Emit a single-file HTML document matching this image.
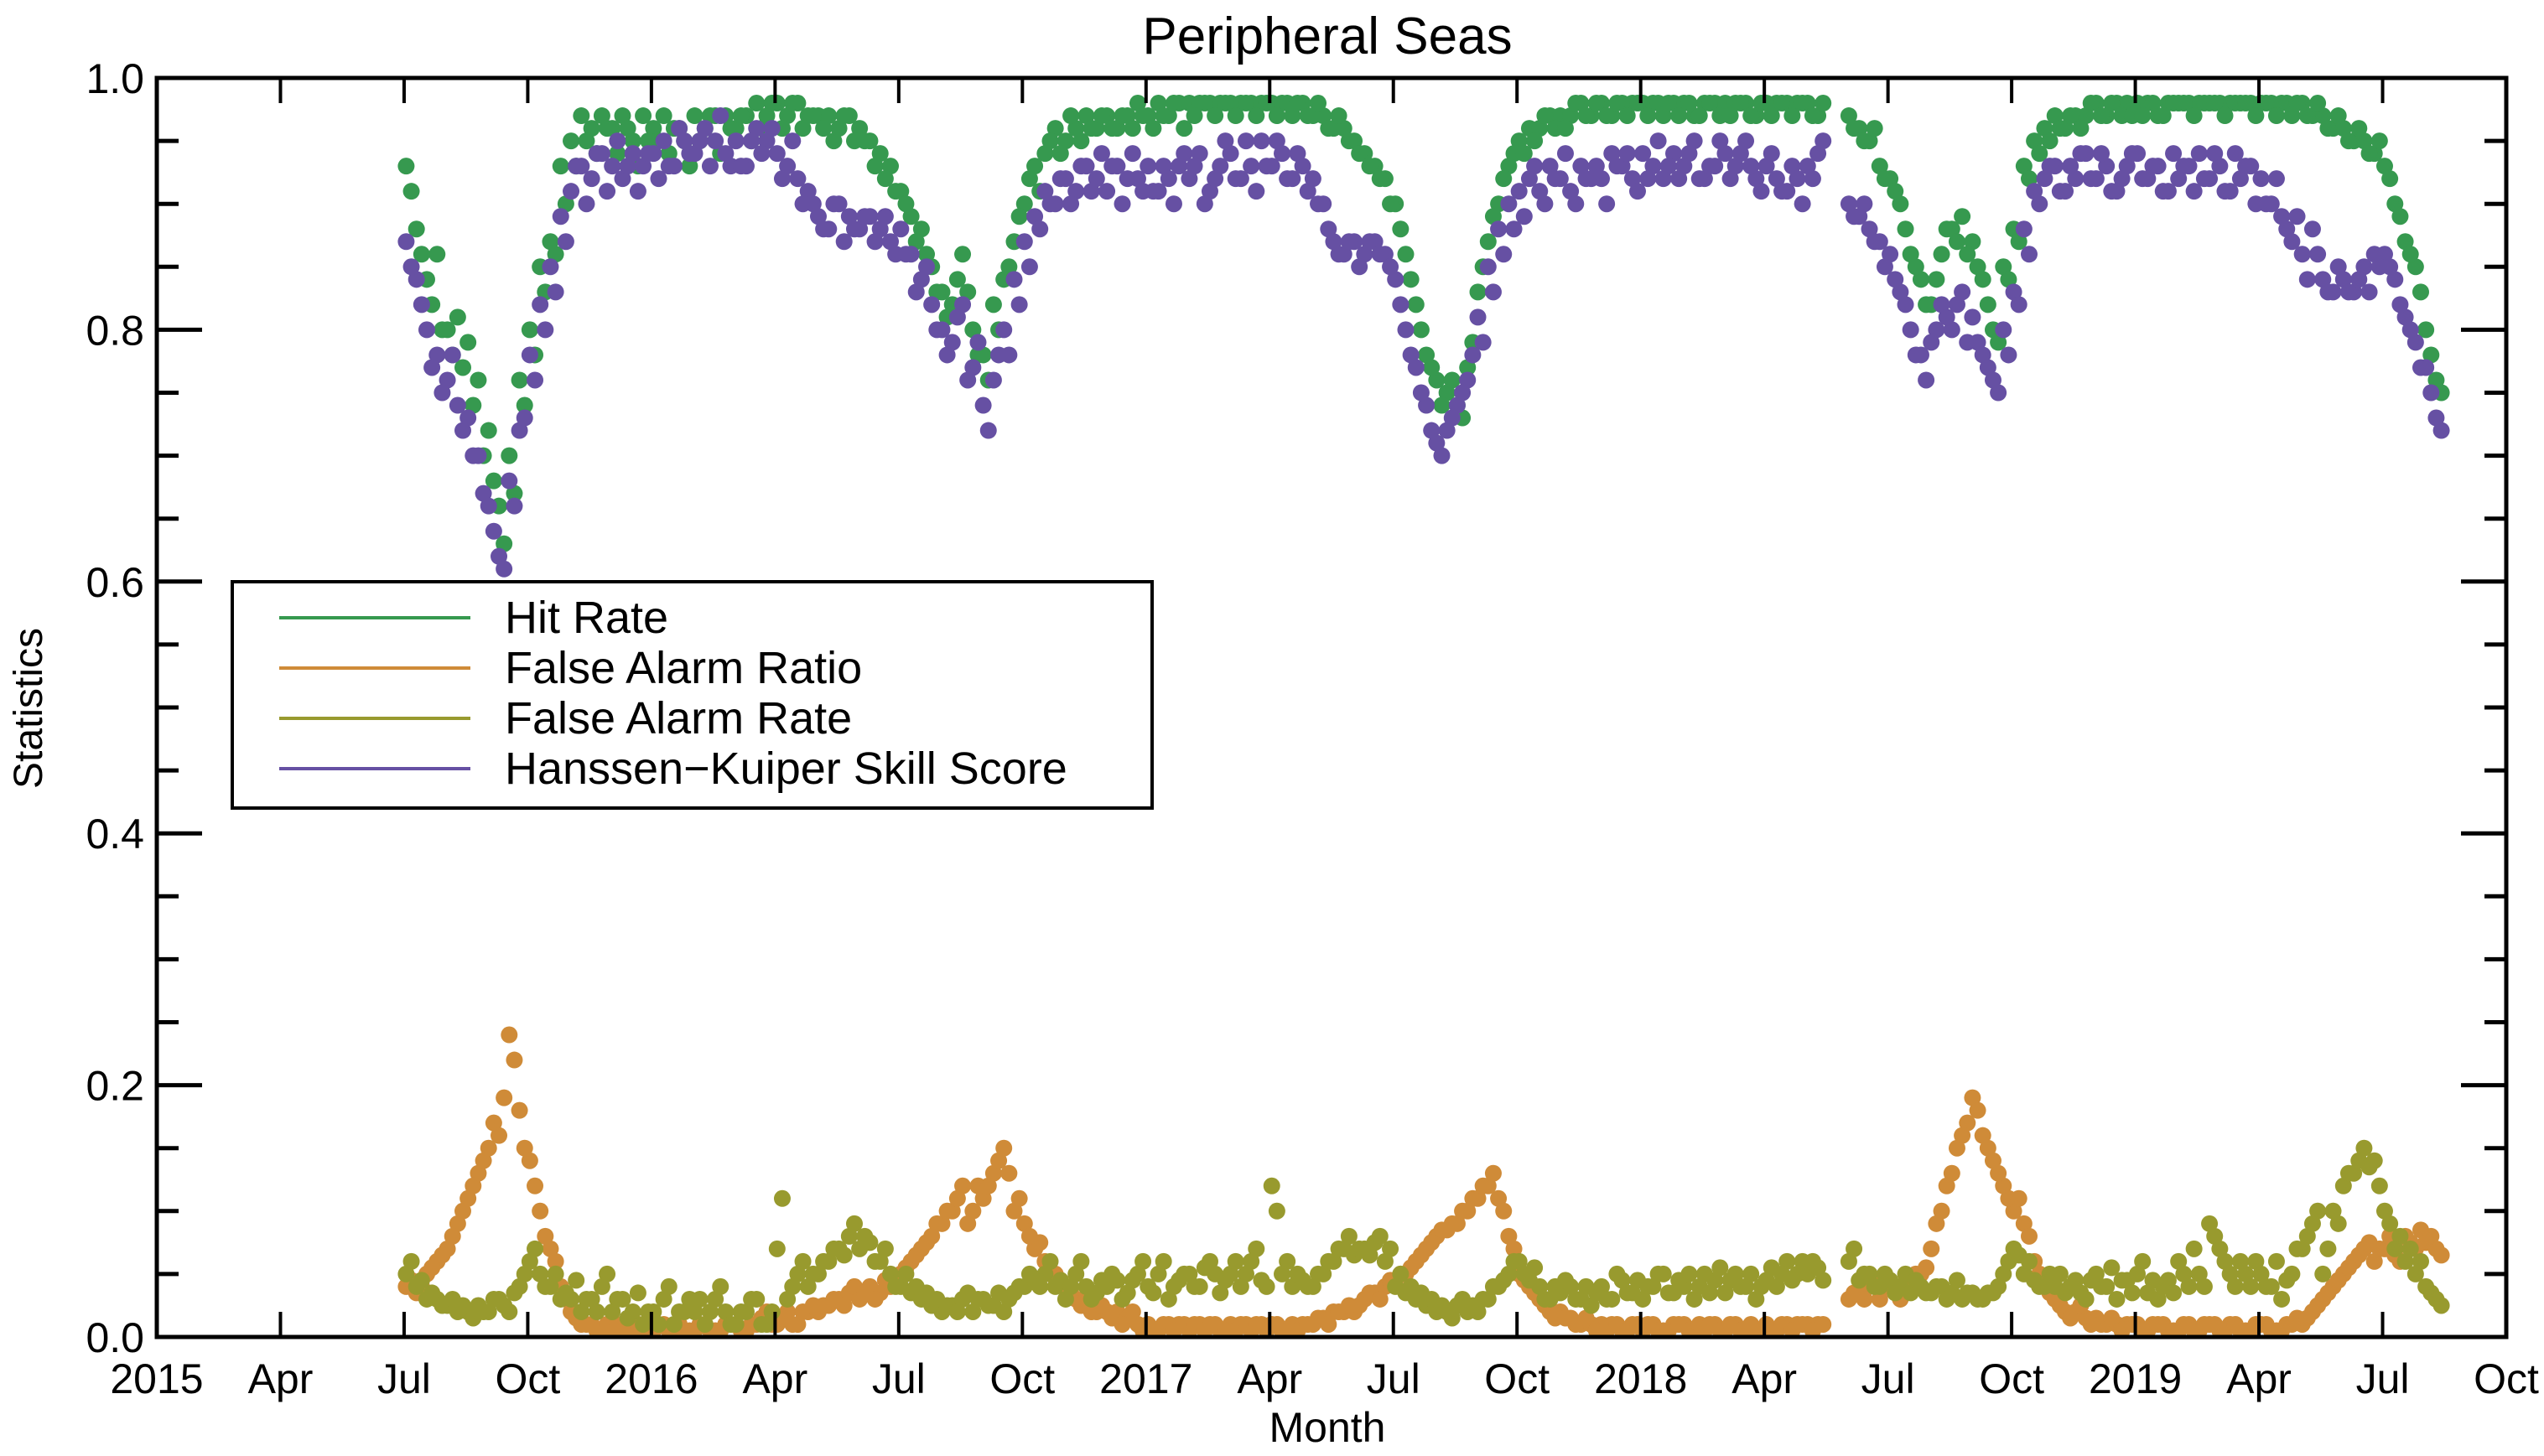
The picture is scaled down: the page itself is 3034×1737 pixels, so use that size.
<!DOCTYPE html>
<html><head><meta charset="utf-8"><style>
html,body{margin:0;padding:0;background:#fff;}
svg{display:block;font-family:"Liberation Sans",Arial,sans-serif;}
</style></head><body>
<svg id="chart" width="3034" height="1737" viewBox="0 0 3034 1737">
<rect width="3034" height="1737" fill="#fff"/>
<text x="1583" y="64" font-size="62" text-anchor="middle">Peripheral Seas</text>
<text transform="translate(50,845) rotate(-90)" font-size="48" text-anchor="middle">Statistics</text>
<text x="1583" y="1720" font-size="50" text-anchor="middle">Month</text>
<g id="marks"></g>
<g id="axes"></g>
<g>
<rect x="277" y="694" width="1097" height="270" fill="#fff" stroke="#000" stroke-width="4"/>
<line x1="333" y1="737" x2="561" y2="737" stroke="#36994f" stroke-width="4"/>
<text x="602" y="755" font-size="54">Hit Rate</text>
<line x1="333" y1="797" x2="561" y2="797" stroke="#cf8b38" stroke-width="4"/>
<text x="602" y="815" font-size="54">False Alarm Ratio</text>
<line x1="333" y1="857" x2="561" y2="857" stroke="#989a2e" stroke-width="4"/>
<text x="602" y="875" font-size="54">False Alarm Rate</text>
<line x1="333" y1="917" x2="561" y2="917" stroke="#6650a3" stroke-width="4"/>
<text x="602" y="935" font-size="54">Hanssen−Kuiper Skill Score</text>
</g>
</svg>
<script>
// months since Jan 2015; first sample ~Jul 2015, 4 samples per month (plus a second, offset set of samples)
const startMonth = 6.05;
const stepMonth = 0.25;
const xTickLabels = ["2015","Apr","Jul","Oct","2016","Apr","Jul","Oct","2017","Apr","Jul","Oct","2018","Apr","Jul","Oct","2019","Apr","Jul","Oct"];
const yTickLabels = ["0.0","0.2","0.4","0.6","0.8","1.0"];
const yTickValues = [0,0.2,0.4,0.6,0.8,1.0];
const hitRate = [
.93,.88,.84,.86, .80,.81,.79,.76, .72,.66,.70,.76, .80,.85,.87,.93, .95,.97,.96,.97, .96,.97,.95,.97,
.96,.97,.96,.95, .97,.96,.97,.97, .96,.97,.98,.97, .98,.97,.98,.97, .97,.97,.96,.97, .96,.95,.94,.93,
.91,.89,.88,.85, .83,.82,.86,.80, .78,.82,.84,.87, .90,.93,.94,.96, .95,.96,.97,.96, .97,.96,.97,.98,
.97,.98,.97,.98, .98,.98,.98,.98, .98,.98,.98,.98, .98,.98,.97,.98, .97,.97,.96,.96, .95,.94,.93,.92,
.90,.86,.82,.78, .76,.75,.74,.77, .83,.87,.90,.93, .95,.96,.96,.97, .97,.97,.98,.97, .98,.97,.98,.98,
.98,.98,.97,.98, .98,.97,.98,.98, .98,.98,.98,.97, .98,.98,.98,.98, .98,.97,null,null, .97,.96,.95,.93,
.92,.90,.86,.84, .82,.86,.88,.89, .87,.84,.80,.85, .88,.93,.95,.96, .97,.96,.97,.97, .98,.97,.98,.98,
.98,.98,.97,.98, .98,.98,.98,.98, .98,.98,.98,.98, .98,.98,.98,.97, .98,.97,.97,.96, .96,.95,.95,.94,
.93,.90,.87,.85, .80,.76];
const hitRate2 = [
.91,.86,.82,.80, .78,.77,.74,.70, .68,.63,.67,.74, .78,.83,.86,.90, .93,.95,.94,.96, .94,.96,.93,.95,
.95,.94,.96,.93, .95,.97,.94,.96, .97,.95,.96,.98, .96,.98,.96,.97, .96,.95,.97,.95, .95,.93,.92,.91,
.90,.87,.86,.83, .81,.84,.83,.78, .76,.80,.85,.89, .92,.91,.95,.94, .97,.95,.96,.97, .96,.97,.96,.97,
.96,.97,.98,.96, .97,.98,.97,.98, .97,.98,.97,.98, .97,.98,.98,.97, .98,.96,.97,.95, .94,.93,.92,.90,
.88,.84,.80,.77, .74,.76,.73,.79, .85,.89,.92,.94, .94,.95,.97,.96, .96,.98,.97,.98, .97,.98,.97,.98,
.97,.98,.98,.97, .98,.97,.98,.97, .97,.98,.97,.98, .97,.98,.97,.98, .97,.98,null,null, .96,.95,.96,.92,
.91,.88,.85,.82, .84,.88,.87,.86, .85,.82,.79,.84, .87,.92,.94,.95, .96,.97,.96,.98, .97,.98,.97,.97,
.97,.98,.97,.98, .98,.97,.98,.98, .97,.98,.98,.97, .98,.97,.98,.98, .97,.98,.96,.97, .95,.96,.94,.95,
.92,.89,.86,.83, .78,.75];
const hkss = [
.87,.84,.80,.78, .76,.74,.73,.70, .66,.62,.68,.72, .78,.82,.85,.89, .91,.93,.92,.94, .93,.92,.94,.93,
.94,.95,.93,.95, .94,.96,.95,.94, .95,.93,.96,.95, .94,.93,.92,.91, .89,.88,.90,.89, .88,.89,.88,.87,
.88,.86,.84,.82, .80,.79,.82,.77, .74,.76,.80,.84, .87,.89,.91,.90, .92,.91,.93,.92, .91,.93,.92,.92,
.93,.91,.92,.93, .92,.94,.91,.93, .94,.92,.93,.95, .93,.94,.92,.93, .92,.90,.87,.86, .87,.86,.87,.86,
.84,.80,.77,.74, .71,.72,.74,.76, .81,.85,.88,.90, .91,.92,.91,.93, .92,.91,.93,.92, .92,.94,.93,.92,
.94,.93,.92,.94, .93,.95,.92,.93, .94,.93,.95,.92, .93,.92,.91,.92, .93,.94,null,null, .90,.89,.88,.87,
.86,.83,.80,.78, .79,.82,.80,.83, .81,.78,.76,.80, .83,.88,.91,.92, .93,.91,.92,.94, .92,.93,.91,.93,
.94,.92,.93,.91, .92,.93,.94,.92, .93,.91,.92,.93, .92,.90,.89,.87, .86,.88,.84,.83, .84,.83,.85,.86,
.86,.84,.81,.79, .77,.73];
const hkss2 = [
.85,.82,.77,.75, .78,.72,.70,.67, .64,.61,.66,.73, .76,.80,.83,.87, .93,.90,.94,.91, .95,.93,.91,.94,
.92,.93,.96,.94, .95,.93,.97,.93, .93,.95,.94,.96, .92,.95,.90,.90, .88,.90,.87,.88, .89,.87,.89,.86,
.86,.83,.85,.80, .78,.81,.76,.79, .72,.78,.78,.82, .85,.88,.90,.92, .90,.93,.91,.94, .93,.90,.94,.91,
.91,.93,.90,.94, .93,.90,.92,.95, .92,.95,.91,.93, .95,.92,.94,.91, .90,.88,.86,.87, .85,.87,.86,.85,
.82,.78,.75,.72, .70,.73,.75,.78, .79,.83,.86,.88, .89,.93,.90,.92, .94,.90,.92,.93, .90,.93,.94,.91,
.92,.95,.93,.92, .94,.92,.93,.95, .92,.94,.93,.91, .94,.91,.93,.90, .92,.95,null,null, .89,.90,.87,.85,
.84,.82,.78,.76, .80,.81,.82,.79, .79,.77,.75,.78, .82,.86,.90,.93, .91,.93,.94,.92, .94,.91,.92,.94,
.92,.93,.91,.94, .93,.91,.92,.94, .91,.94,.93,.90, .90,.92,.88,.89, .84,.86,.83,.85, .83,.84,.83,.85,
.85,.82,.80,.77, .75,.72];
const falseAlarmRatio = [
.04,.035,.05,.06, .07,.09,.11,.13, .15,.16,.24,.18, .14,.10,.07,.04, .02,.01,.01,.005, .005,.005,.005,.005,
.005,.01,.005,.005, .005,.01,.005,.01, .01,.005,.01,.02, .01,.02,.01,.02, .02,.025,.03,.035, .03,.04,.035,.04,
.05,.06,.07,.08, .09,.10,.12,.10, .11,.13,.15,.10, .09,.07,.06,.05, .04,.03,.03,.02, .02,.02,.015,.01,
.01,.005,.01,.01, .005,.01,.01,.005, .01,.01,.005,.01, .01,.005,.01,.01, .01,.015,.02,.02, .02,.03,.035,.04,
.045,.05,.06,.07, .08,.085,.09,.10, .11,.12,.11,.08, .05,.04,.03,.02, .02,.015,.01,.01, .01,.01,.005,.01,
.005,.01,.005,.01, .01,.005,.005,.01, .005,.01,.005,.005, .01,.005,.01,.01, .01,.01,null,null, .03,.035,.04,.03,
.04,.03,.045,.05, .07,.10,.13,.16, .19,.16,.14,.12, .10,.09,.06,.04, .03,.02,.02,.015, .015,.01,.01,.01,
.01,.005,.01,.005, .005,.01,.005,.01, .005,.01,.005,.005, .01,.005,.005,.01, .01,.02,.03,.04, .05,.06,.07,.06,
.07,.065,.08,.07, .075,.07];
const falseAlarmRatio2 = [
.045,.04,.055,.065, .08,.10,.12,.14, .17,.19,.22,.15, .12,.08,.06,.03, .015,.01,.005,.01, .01,.005,.01,.005,
.01,.005,.01,.005, .01,.005,.005,.01, .005,.01,.015,.01, .015,.01,.02,.025, .025,.03,.025,.04, .035,.03,.045,.045,
.055,.065,.075,.09, .10,.11,.09,.12, .12,.14,.13,.11, .08,.075,.05,.045, .035,.025,.02,.025, .015,.01,.02,.005,
.005,.01,.005,.01, .01,.005,.01,.005, .005,.01,.01,.005, .01,.005,.005,.01, .015,.01,.02,.025, .025,.035,.03,.045,
.05,.055,.065,.075, .085,.09,.10,.11, .12,.13,.10,.07, .045,.035,.025,.015, .015,.01,.015,.005, .005,.01,.005,.01,
.01,.005,.005,.01, .005,.01,.01,.005, .01,.005,.01,.005, .005,.01,.005,.01, .005,.01,null,null, .035,.03,.045,.04,
.035,.04,.05,.055, .09,.12,.15,.17, .18,.15,.13,.11, .11,.08,.05,.035, .025,.015,.025,.01, .01,.015,.005,.01,
.005,.01,.01,.005, .01,.005,.01,.01, .005,.01,.005,.01, .01,.005,.01,.015, .015,.025,.035,.045, .055,.065,.075,.07,
.08,.06,.075,.085, .08,.065];
const falseAlarmRate = [
.05,.04,.03,.03, .025,.02,.02,.025, .02,.03,.02,.04, .06,.05,.04,.03, .03,.02,.03,.04, .02,.03,.02,.01,
.02,.03,.01,.02, .02,.01,.03,.02, .01,.02,.03,.01, .07,.03,.05,.04, .05,.06,.07,.08, .07,.075,.06,.05,
.04,.035,.03,.025, .02,.025,.03,.02, .03,.025,.02,.035, .04,.045,.05,.04, .03,.05,.04,.035, .04,.045,.035,.05,
.04,.05,.03,.045, .05,.04,.06,.035, .05,.04,.06,.045, .12,.05,.04,.045, .04,.05,.06,.07, .065,.07,.075,.06,
.04,.035,.03,.025, .02,.02,.025,.02, .02,.03,.04,.05, .06,.045,.04,.03, .035,.04,.03,.025, .04,.03,.045,.035,
.03,.04,.05,.035, .04,.03,.05,.045, .035,.05,.04,.03, .045,.04,.06,.05, .05,.055,null,null, .06,.045,.05,.04,
.045,.04,.035,.04, .035,.04,.035,.03, .035,.03,.035,.05, .07,.05,.045,.04, .04,.035,.045,.03, .05,.04,.03,.045,
.05,.035,.03,.045, .06,.04,.05,.09, .07,.05,.06,.04, .05,.04,.03,.05, .07,.09,.05,.10, .12,.13,.15,.14,
.10,.07,.06,.05, .04,.03];
const falseAlarmRate2 = [
.06,.045,.035,.025, .03,.025,.015,.02, .03,.025,.035,.05, .07,.04,.05,.035, .045,.03,.02,.05, .03,.015,.035,.02,
.01,.04,.02,.03, .03,.02,.04,.01, .02,.03,.01,.02, .11,.04,.06,.05, .06,.07,.065,.09, .08,.06,.07,.04,
.05,.04,.035,.03, .025,.02,.035,.03, .025,.035,.03,.04, .05,.04,.06,.045, .04,.06,.03,.045, .05,.03,.045,.06,
.035,.06,.04,.05, .04,.055,.05,.045, .06,.05,.07,.04, .10,.06,.05,.04, .05,.06,.07,.08, .07,.065,.08,.07,
.05,.04,.035,.03, .025,.015,.03,.025, .03,.04,.045,.06, .05,.055,.03,.04, .045,.03,.04,.035, .03,.05,.035,.045,
.04,.05,.035,.045, .05,.04,.035,.055, .045,.04,.05,.04, .055,.05,.045,.06, .06,.045,null,null, .07,.05,.04,.05,
.035,.05,.045,.035, .04,.03,.045,.035, .03,.035,.04,.06, .065,.06,.04,.05, .05,.04,.035,.045, .04,.055,.045,.035,
.06,.045,.04,.035, .05,.07,.04,.08, .06,.04,.05,.06, .04,.06,.045,.07, .08,.10,.07,.09, .13,.14,.135,.12,
.09,.08,.07,.06, .035,.025];

const X0 = 187, X1 = 2989, Y0 = 1595, Y1 = 93;
const monthsSpan = 57;
function xScale(m){ return X0 + (m / monthsSpan) * (X1 - X0); }
function yScale(v){ return Y0 - v * (Y0 - Y1); }
const NS = "http://www.w3.org/2000/svg";
const marks = document.getElementById("marks");
const axes = document.getElementById("axes");

function drawSeries(vals, offset, color, name){
  const g = document.createElementNS(NS, "g");
  
  
  g.setAttribute("fill", color);
  vals.forEach((v, i) => {
    if (v === null) return;
    const c = document.createElementNS(NS, "circle");
    c.setAttribute("cx", xScale(startMonth + offset + i * stepMonth));
    c.setAttribute("cy", yScale(v));
    c.setAttribute("r", 10);
    
    
    g.appendChild(c);
  });
  marks.appendChild(g);
}
drawSeries(hitRate, 0, "#36994f", "hit-rate");
drawSeries(hitRate2, 0.125, "#36994f", "hit-rate");
drawSeries(hkss, 0, "#6650a3", "hkss");
drawSeries(hkss2, 0.125, "#6650a3", "hkss");
drawSeries(falseAlarmRatio, 0, "#cf8b38", "false-alarm-ratio");
drawSeries(falseAlarmRatio2, 0.125, "#cf8b38", "false-alarm-ratio");
drawSeries(falseAlarmRate, 0, "#989a2e", "false-alarm-rate");
drawSeries(falseAlarmRate2, 0.125, "#989a2e", "false-alarm-rate");

function line(x1,y1,x2,y2,w,name){
  const l = document.createElementNS(NS, "line");
  l.setAttribute("x1",x1); l.setAttribute("y1",y1); l.setAttribute("x2",x2); l.setAttribute("y2",y2);
  l.setAttribute("stroke","#000"); l.setAttribute("stroke-width",w);
  
  
  axes.appendChild(l);
}
function text(x,y,s,anchor,name){
  const t = document.createElementNS(NS, "text");
  t.setAttribute("x",x); t.setAttribute("y",y); t.setAttribute("font-size",50);
  t.setAttribute("text-anchor",anchor); t.textContent = s;
  
  
  axes.appendChild(t);
}
xTickLabels.forEach((lab, i) => {
  const x = xScale(i * 3);
  if (i > 0 && i < xTickLabels.length - 1) {
    line(x, Y0, x, Y0 - 30, 4, 'x-tick');
    line(x, Y1, x, Y1 + 30, 4, 'x-tick-top');
  }
  text(x, 1662, lab, "middle", 'x-tick-label');
});
for (let k = 1; k < 20; k++) {
  const y = yScale(k * 0.05);
  const len = (k % 4 === 0) ? 54 : 26;
  line(X0, y, X0 + len, y, 5, 'y-tick');
  line(X1, y, X1 - len, y, 5, 'y-tick-right');
}
yTickValues.forEach((v, i) => {
  text(172, yScale(v) + 18, yTickLabels[i], "end", 'y-tick-label');
});
const fr = document.createElementNS(NS, "rect");
fr.setAttribute("x", X0); fr.setAttribute("y", Y1);
fr.setAttribute("width", X1 - X0); fr.setAttribute("height", Y0 - Y1);
fr.setAttribute("fill", "none"); fr.setAttribute("stroke", "#000"); fr.setAttribute("stroke-width", 5);


axes.appendChild(fr);
</script>
</body></html>
